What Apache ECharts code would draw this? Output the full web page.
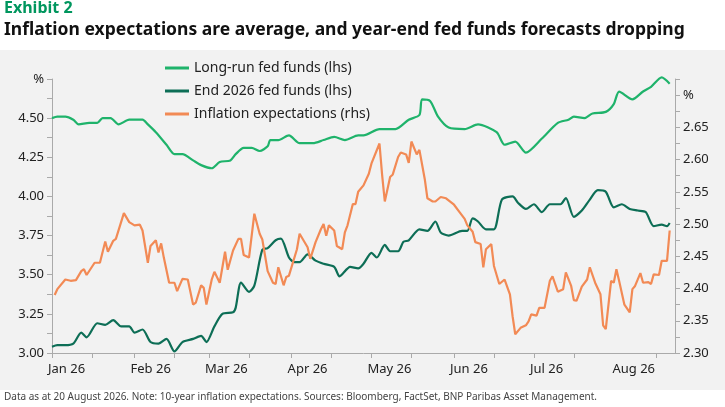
<!DOCTYPE html>
<html lang="en">
<head>
<meta charset="UTF-8">
<title>Exhibit 2</title>
<script src="https://cdn.jsdelivr.net/npm/echarts@6/dist/echarts.min.js"></script>
<style>
  html, body { margin: 0; padding: 0; background: #ffffff; }
  #chart { width: 725px; height: 407px; }
</style>
</head>
<body>
<div id="chart"></div>
<script>
// day offsets from 1 Jan 2026
var lrDays = [0,2,5,8,10,14,17,19,22,25,29,32,34,36,39,43,46,49,53,56,60,63,67,69,72,75,78,81,82,85,89,93,98,102,106,110,115,117,123,129,134,138,139,142,145,149,155,160,167,170,174,178,184,190,194,196,200,203,208,211,213,218,222,225,229,232];
var lrVals = [4.50,4.51,4.51,4.49,4.46,4.47,4.47,4.50,4.50,4.46,4.49,4.49,4.49,4.46,4.41,4.33,4.27,4.27,4.23,4.20,4.18,4.22,4.23,4.27,4.31,4.31,4.29,4.32,4.36,4.36,4.39,4.34,4.34,4.36,4.38,4.36,4.39,4.39,4.43,4.43,4.49,4.52,4.62,4.61,4.51,4.44,4.43,4.46,4.41,4.33,4.35,4.28,4.37,4.47,4.49,4.51,4.50,4.53,4.54,4.59,4.67,4.62,4.67,4.70,4.76,4.72];

var edDays = [0,2,5,8,11,13,17,20,23,26,29,31,34,37,40,43,46,49,53,56,58,61,64,68,69,71,74,76,79,81,84,86,89,91,93,96,99,102,106,108,112,115,117,120,122,125,127,130,132,134,138,141,144,146,149,154,156,158,160,163,166,169,173,175,178,181,184,187,191,193,196,199,202,205,208,211,214,217,220,223,226,229,231,232];
var edVals = [3.04,3.05,3.05,3.06,3.13,3.10,3.19,3.18,3.21,3.17,3.17,3.13,3.15,3.07,3.06,3.09,3.01,3.07,3.09,3.11,3.07,3.17,3.25,3.26,3.29,3.45,3.39,3.43,3.66,3.67,3.72,3.73,3.61,3.58,3.58,3.63,3.59,3.57,3.55,3.49,3.55,3.54,3.57,3.64,3.61,3.69,3.65,3.65,3.71,3.72,3.79,3.78,3.84,3.77,3.75,3.78,3.78,3.86,3.84,3.79,3.79,3.98,4.00,3.96,3.92,3.95,3.90,3.95,3.95,3.99,3.87,3.91,3.98,4.04,4.03,3.93,3.95,3.92,3.91,3.90,3.81,3.82,3.81,3.83];

var ieDays = [1,2,5,7,9,11,12,13,16,18,20,21,23,24,27,29,31,33,34,36,37,39,40,41,42,44,46,47,49,51,53,54,56,57,58,60,61,63,65,66,68,70,71,72,74,76,78,79,81,83,84,85,87,88,89,92,93,95,96,97,99,101,102,103,104,106,107,109,110,111,113,114,115,117,119,120,123,124,125,127,128,130,131,133,134,135,137,138,140,141,143,144,146,148,151,153,155,156,158,159,161,162,163,165,166,168,170,172,173,174,176,178,179,180,182,183,185,187,188,190,192,193,195,196,197,199,201,202,204,206,207,208,210,211,212,213,215,217,218,219,221,222,224,225,226,228,229,231,232];
var ieVals = [2.390,2.399,2.414,2.412,2.413,2.427,2.430,2.421,2.440,2.440,2.473,2.457,2.474,2.477,2.517,2.503,2.498,2.499,2.490,2.440,2.466,2.475,2.456,2.470,2.448,2.409,2.409,2.396,2.415,2.414,2.375,2.378,2.405,2.401,2.375,2.414,2.426,2.409,2.457,2.429,2.459,2.477,2.477,2.452,2.448,2.516,2.485,2.476,2.427,2.409,2.407,2.433,2.405,2.418,2.420,2.461,2.485,2.471,2.464,2.446,2.472,2.492,2.500,2.482,2.498,2.490,2.466,2.461,2.487,2.498,2.531,2.531,2.550,2.560,2.578,2.594,2.625,2.576,2.535,2.573,2.577,2.604,2.611,2.608,2.595,2.628,2.608,2.615,2.570,2.540,2.535,2.535,2.542,2.540,2.530,2.519,2.508,2.498,2.488,2.472,2.469,2.433,2.461,2.469,2.435,2.407,2.414,2.391,2.357,2.329,2.339,2.343,2.349,2.360,2.358,2.370,2.370,2.412,2.419,2.395,2.399,2.425,2.404,2.382,2.381,2.403,2.414,2.433,2.409,2.391,2.343,2.337,2.412,2.409,2.430,2.412,2.375,2.363,2.399,2.404,2.424,2.409,2.410,2.407,2.422,2.421,2.443,2.443,2.490];

var seriesNames = ['Long-run fed funds (lhs)', 'End 2026 fed funds (lhs)', 'Inflation expectations (rhs)'];
var colors = ['#1fb36b', '#0d6e56', '#f28a55'];
var monthStarts = [0, 1, 2, 3, 4, 5, 6, 7];

function pairs(days, vals) {
    var out = [];
    for (var i = 0; i < days.length; i++) {
        out.push([new Date(2026, 0, 1 + days[i]).getTime(), vals[i]]);
    }
    return out;
}

var labelTimes = monthStarts.map(function (m) { return new Date(2026, m, 1).getTime(); });
var tickTimes = [];
monthStarts.forEach(function (m) {
    tickTimes.push(new Date(2026, m, 1).getTime());
    tickTimes.push(new Date(2026, m, 16).getTime());
});

var font = 'Noto Sans';
var chart = echarts.init(document.getElementById('chart'));

var option = {
    animation: false,
    textStyle: { fontFamily: font },
    graphic: [
        { type: 'rect', left: 0, top: 50, shape: { width: 725, height: 340 }, style: { fill: '#f2f2f2' }, z: -10 },
        { type: 'text', left: 4, top: 0, style: { text: 'Exhibit 2', fill: '#00965e', font: 'bold 16px "Noto Sans"' } },
        { type: 'text', left: 4, top: 21, style: { text: 'Inflation expectations are average, and year-end fed funds forecasts dropping', fill: '#111', font: 'bold 17.5px "Noto Sans"' } },
        { type: 'text', left: 4, top: 392, style: { text: 'Data as at 20 August 2026. Note: 10-year inflation expectations. Sources: Bloomberg, FactSet, BNP Paribas Asset Management.', fill: '#444', font: '10px "Noto Sans"' } }
    ],
    legend: {
        orient: 'vertical',
        left: 160,
        top: 56,
        itemGap: 9,
        itemWidth: 24,
        itemHeight: 3,
        icon: 'rect',
        textStyle: { fontSize: 14, color: '#222', fontFamily: font },
        data: seriesNames
    },
    grid: { left: 52, right: 50, top: 79, bottom: 54 },
    xAxis: {
        type: 'time',
        min: new Date(2026, 0, 1).getTime(),
        max: new Date(2026, 7, 23).getTime(),
        axisLine: { lineStyle: { color: '#aaa' } },
        axisTick: { show: true, length: 5, customValues: tickTimes, lineStyle: { color: '#aaa' } },
        splitLine: { show: false },
        axisLabel: {
            customValues: labelTimes,
            formatter: '{MMM} {yy}', fontSize: 13, color: '#222', margin: 10,
            fontFamily: font, hideOverlap: false, align: 'left', padding: [0, 0, 0, -4]
        }
    },
    yAxis: [{
        type: 'value', min: 3, max: 4.75, interval: 0.125,
        axisLine: { show: true, lineStyle: { color: '#aaa' } },
        axisTick: { show: true, length: 5, lineStyle: { color: '#aaa' } },
        splitLine: { show: false },
        axisLabel: {
            fontSize: 13, color: '#222', fontFamily: font,
            formatter: function (v) {
                if (Math.abs(v - 4.75) < 1e-6) return '%';
                return Math.abs(v * 4 - Math.round(v * 4)) < 1e-6 ? v.toFixed(2) : '';
            }
        }
    }, {
        type: 'value', min: 2.3, max: 2.725, interval: 0.025,
        axisLine: { show: true, lineStyle: { color: '#aaa' } },
        axisTick: { show: true, length: 5, lineStyle: { color: '#aaa' } },
        splitLine: { show: false },
        axisLabel: {
            fontSize: 13, color: '#222', fontFamily: font,
            formatter: function (v) {
                if (Math.abs(v - 2.7) < 1e-6) return '%';
                if (v > 2.71) return '';
                return Math.abs(v * 20 - Math.round(v * 20)) < 1e-6 ? v.toFixed(2) : '';
            }
        }
    }],
    series: [{
        name: seriesNames[0], type: 'line', yAxisIndex: 0, showSymbol: false, clip: false,
        smooth: 0.25, color: colors[0], lineStyle: { width: 2.2 }, data: pairs(lrDays, lrVals)
    }, {
        name: seriesNames[1], type: 'line', yAxisIndex: 0, showSymbol: false, clip: false,
        smooth: 0.25, color: colors[1], lineStyle: { width: 2.2 }, data: pairs(edDays, edVals)
    }, {
        name: seriesNames[2], type: 'line', yAxisIndex: 1, showSymbol: false, clip: false,
        color: colors[2], lineStyle: { width: 2.2 }, data: pairs(ieDays, ieVals)
    }]
};
chart.setOption(option);
</script>
</body>
</html>
